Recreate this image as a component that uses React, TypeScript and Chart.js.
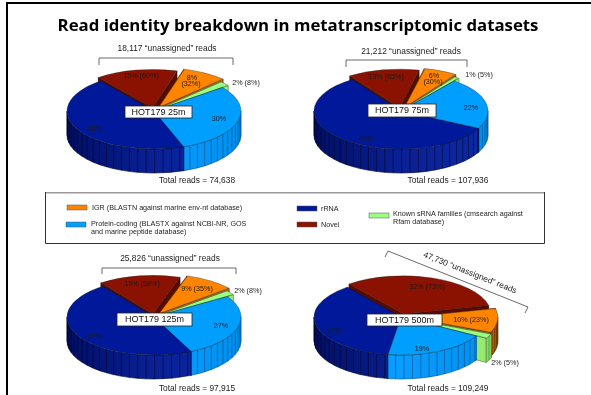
import React, { useEffect, useRef } from "react";
import { Chart, registerables } from "chart.js";

Chart.register(...registerables);

const WIDTH = 591;
const HEIGHT = 395;
const BODY_FONT = '"Liberation Sans", Arial, sans-serif';

// Slice order, clockwise from the rotation angle
const categories = ["rRNA", "Novel", "IGR", "Known sRNA families", "Protein-coding"];
const values25m = [45, 15, 8, 2, 30];
const values75m = [58, 13, 6, 1, 22];
const values125m = [47, 15, 9, 2, 27];
const values500m = [37, 32, 10, 2, 19];

const topColors = ["#00199a", "#8b1200", "#ff8500", "#99ff80", "#009fff"];
const wallShades = [
  ["#000f66", "#0a2096", "#0a2aa6"],
  ["#5a0b00", "#6a0e00", "#6a0e00"],
  ["#cc6a00", "#cc6a00", "#b85e00"],
  ["#96ea72", "#96ea72", "#88d868"],
  ["#0a9cff", "#0a9cff", "#0090ee"],
];
const ribColors = ["#000628", "#2a0500", "#3c2000", "#4f7a3a", "#004f8c"];

const PIE_RX = 87;
const SQUASH = 0.437;
const WALL_DEPTH = 24;
const RIB_STEP = (5.6 * Math.PI) / 180;

type Note = { text: string; x: number; y: number };
type Panel = {
  name: string;
  values: number[];
  cx: number;
  cy: number;
  rotation: number;
  offsets: number[];
  box: [number, number, number, number];
  notes: Note[];
  total: Note;
  unassigned: Note & { angle?: number };
  bracket: [number, number][];
};

const panels: Panel[] = [
  {
    name: "HOT179 25m",
    values: values25m,
    cx: 154,
    cy: 111,
    rotation: 160,
    offsets: [0, 28, 36, 16, 0],
    box: [125, 106, 67, 12],
    notes: [
      { text: "45%", x: 95, y: 129 },
      { text: "15% (60%)", x: 141, y: 76 },
      { text: "8%", x: 192, y: 78 },
      { text: "(32%)", x: 191, y: 84 },
      { text: "2% (8%)", x: 246, y: 83 },
      { text: "30%", x: 219, y: 119 },
    ],
    total: { text: "Total reads = 74,638", x: 197, y: 181 },
    unassigned: { text: "18,117 “unassigned” reads", x: 167, y: 49 },
    bracket: [[99, 65], [99, 58], [233, 58], [233, 65]],
  },
  {
    name: "HOT179 75m",
    values: values75m,
    cx: 401,
    cy: 111,
    rotation: 117,
    offsets: [0, 28, 32, 16, 0],
    box: [368, 104, 68, 13],
    notes: [
      { text: "58%", x: 366, y: 139 },
      { text: "13% (65%)", x: 386, y: 77 },
      { text: "6%", x: 434, y: 76 },
      { text: "(30%)", x: 433, y: 82 },
      { text: "1% (5%)", x: 479, y: 75 },
      { text: "22%", x: 471, y: 108 },
    ],
    total: { text: "Total reads = 107,936", x: 448, y: 181 },
    unassigned: { text: "21,212 “unassigned” reads", x: 411, y: 52 },
    bracket: [[346, 67], [346, 60], [467, 60], [467, 67]],
  },
  {
    name: "HOT179 125m",
    values: values125m,
    cx: 154,
    cy: 317,
    rotation: 154.7,
    offsets: [0, 28, 36, 16, 0],
    box: [117, 313, 75, 13],
    notes: [
      { text: "47%", x: 95, y: 337 },
      { text: "15% (58%)", x: 142, y: 284 },
      { text: "9% (35%)", x: 197, y: 289 },
      { text: "2% (8%)", x: 248, y: 291 },
      { text: "27%", x: 221, y: 326 },
    ],
    total: { text: "Total reads = 97,915", x: 197, y: 389 },
    unassigned: { text: "25,826 “unassigned” reads", x: 170, y: 259 },
    bracket: [[102, 274], [102, 268], [236, 268], [236, 274]],
  },
  {
    name: "HOT179 500m",
    values: values500m,
    cx: 401,
    cy: 317,
    rotation: 188.5,
    offsets: [0, 28, 28, 24, 0],
    box: [367, 314, 75, 12],
    notes: [
      { text: "37%", x: 334, y: 331 },
      { text: "32% (73%)", x: 427, y: 287 },
      { text: "10% (23%)", x: 471, y: 320 },
      { text: "19%", x: 422, y: 349 },
      { text: "2% (5%)", x: 505, y: 363 },
    ],
    total: { text: "Total reads = 109,249", x: 448, y: 389 },
    unassigned: { text: "47,730 “unassigned” reads", x: 470, y: 273, angle: 21.7 },
    bracket: [[385, 257], [388, 251], [528, 307], [525, 313]],
  },
];

const titleText = "Read identity breakdown in metatranscriptomic datasets";

const legendEntries = [
  { index: 2, sw: [67, 205], lines: ["IGR (BLASTN against marine env-nt database)"], tx: 92, ty: 208 },
  { index: 4, sw: [66, 222], lines: ["Protein-coding (BLASTX against NCBI-NR, GOS", "and marine peptide database)"], tx: 91, ty: 224 },
  { index: 0, sw: [297, 206], lines: ["rRNA"], tx: 321, ty: 209 },
  { index: 1, sw: [297, 222], lines: ["Novel"], tx: 321, ty: 225 },
  { index: 3, sw: [369, 213], lines: ["Known sRNA families (cmsearch against", "Rfam database)"], tx: 393, ty: 214 },
];

// Slide frame, heading and the shared key box, painted once behind the first pie.
const pageDecor = {
  id: "pageDecor",
  beforeDraw(chart: any) {
    const ctx: CanvasRenderingContext2D = chart.ctx;
    ctx.save();
    ctx.fillStyle = "#000";
    ctx.fillRect(6, 2, WIDTH, 2);
    ctx.fillRect(6, 2, 2, HEIGHT);

    ctx.textAlign = "center";
    ctx.textBaseline = "middle";
    ctx.font = '700 16.8px "Open Sans", sans-serif';
    ctx.fillText(titleText, 298, 26);

    ctx.fillStyle = "#999";
    ctx.fillRect(45, 192, 500, 1.5);
    ctx.strokeStyle = "#333";
    ctx.lineWidth = 1;
    ctx.beginPath();
    ctx.moveTo(45.5, 192);
    ctx.lineTo(45.5, 243.5);
    ctx.lineTo(544.5, 243.5);
    ctx.lineTo(544.5, 192);
    ctx.stroke();

    ctx.textAlign = "left";
    ctx.font = `7.2px ${BODY_FONT}`;
    for (const entry of legendEntries) {
      ctx.fillStyle = topColors[entry.index];
      ctx.fillRect(entry.sw[0], entry.sw[1], 20, 5);
      ctx.strokeStyle = "#555";
      ctx.lineWidth = 0.5;
      ctx.strokeRect(entry.sw[0], entry.sw[1], 20, 5);
      ctx.fillStyle = "#1c1c1c";
      entry.lines.forEach((line, i) => ctx.fillText(line, entry.tx, entry.ty + i * 8));
    }
    ctx.restore();
  },
};

// Extrudes the slices downward and flattens the library's arcs into an ellipse.
const pie3d = {
  id: "pie3d",
  beforeDatasetsDraw(chart: any) {
    const ctx: CanvasRenderingContext2D = chart.ctx;
    const arcs = chart.getDatasetMeta(0).data;
    const cx = arcs[0].x;
    const cy = arcs[0].y;
    const parts = arcs.map((arc: any, i: number) => {
      const off = (arc.options.offset || 0) / 4;
      const mid = (arc.startAngle + arc.endAngle) / 2;
      const circ = arc.endAngle - arc.startAngle;
      const r = arc.outerRadius + off * (1 - Math.sin(Math.min(Math.PI, circ)));
      return {
        i,
        s: arc.startAngle,
        e: arc.endAngle,
        mid,
        r,
        ox: cx + Math.cos(mid) * off,
        oy: cy + Math.sin(mid) * off * SQUASH,
      };
    });
    parts.sort((a: any, b: any) => Math.sin(a.mid) - Math.sin(b.mid));

    const shade = (i: number) => {
      const g = ctx.createLinearGradient(cx - PIE_RX, 0, cx + PIE_RX, 0);
      g.addColorStop(0, wallShades[i][0]);
      g.addColorStop(0.5, wallShades[i][1]);
      g.addColorStop(1, wallShades[i][2]);
      return g;
    };

    ctx.save();
    ctx.lineWidth = 0.6;
    // Exposed cut faces
    for (const p of parts) {
      ctx.fillStyle = wallShades[p.i][0];
      ctx.strokeStyle = ribColors[p.i];
      for (const ang of [p.s, p.e]) {
        const px = p.ox + Math.cos(ang) * p.r;
        const py = p.oy + Math.sin(ang) * p.r * SQUASH;
        ctx.beginPath();
        ctx.moveTo(p.ox, p.oy);
        ctx.lineTo(px, py);
        ctx.lineTo(px, py + WALL_DEPTH);
        ctx.lineTo(p.ox, p.oy + WALL_DEPTH);
        ctx.closePath();
        ctx.fill();
        ctx.stroke();
      }
    }
    // Ribbed outer walls on the near half of the rim
    for (const p of parts) {
      ctx.strokeStyle = ribColors[p.i];
      for (let m = -1; m <= 2; m++) {
        const a = Math.max(p.s, 2 * Math.PI * m);
        const b = Math.min(p.e, 2 * Math.PI * m + Math.PI);
        if (b <= a) continue;
        ctx.beginPath();
        ctx.ellipse(p.ox, p.oy, p.r, p.r * SQUASH, 0, a, b);
        ctx.ellipse(p.ox, p.oy + WALL_DEPTH, p.r, p.r * SQUASH, 0, b, a, true);
        ctx.closePath();
        ctx.fillStyle = shade(p.i);
        ctx.fill();
        ctx.stroke();
        const first = Math.ceil(a / RIB_STEP) * RIB_STEP;
        for (let t = first; t < b; t += RIB_STEP) {
          const x = p.ox + Math.cos(t) * p.r;
          const y = p.oy + Math.sin(t) * p.r * SQUASH;
          ctx.beginPath();
          ctx.moveTo(x, y);
          ctx.lineTo(x, y + WALL_DEPTH);
          ctx.stroke();
        }
      }
    }
    ctx.restore();

    ctx.save();
    ctx.translate(cx, cy);
    ctx.scale(1, SQUASH);
    ctx.translate(-cx, -cy);
  },
  afterDatasetsDraw(chart: any) {
    chart.ctx.restore();
  },
};

const panelText = {
  id: "panelText",
  afterDraw(chart: any, _args: any, opts: { panel: Panel }) {
    const ctx: CanvasRenderingContext2D = chart.ctx;
    const panel = opts.panel;
    ctx.save();
    ctx.textAlign = "center";
    ctx.textBaseline = "middle";

    ctx.fillStyle = "#1c1c1c";
    ctx.font = `7.2px ${BODY_FONT}`;
    for (const n of panel.notes) ctx.fillText(n.text, n.x, n.y);

    ctx.font = `8.4px ${BODY_FONT}`;
    ctx.fillText(panel.total.text, panel.total.x, panel.total.y);

    const u = panel.unassigned;
    ctx.save();
    ctx.translate(u.x, u.y);
    ctx.rotate(((u.angle || 0) * Math.PI) / 180);
    ctx.fillText(u.text, 0, 0);
    ctx.restore();

    ctx.strokeStyle = "#444";
    ctx.lineWidth = 0.8;
    ctx.beginPath();
    panel.bracket.forEach(([x, y], i) => (i ? ctx.lineTo(x, y) : ctx.moveTo(x, y)));
    ctx.stroke();

    const [bx, by, bw, bh] = panel.box;
    ctx.fillStyle = "#ffffff";
    ctx.fillRect(bx, by, bw, bh);
    ctx.strokeStyle = "#222";
    ctx.lineWidth = 0.8;
    ctx.strokeRect(bx, by, bw, bh);
    ctx.fillStyle = "#111";
    ctx.font = `9px ${BODY_FONT}`;
    ctx.fillText(panel.name, bx + bw / 2, by + bh / 2 + 0.5);
    ctx.restore();
  },
};

function PieCanvas({ panel, withPage }: { panel: Panel; withPage: boolean }) {
  const ref = useRef<HTMLCanvasElement>(null);
  useEffect(() => {
    if (!ref.current) return;
    const canvasH = 600;
    const size = 2 * PIE_RX + Math.max(...panel.offsets) + 0.5;
    const chart = new Chart(ref.current, {
      type: "pie",
      data: {
        labels: categories,
        datasets: [
          {
            data: panel.values,
            backgroundColor: topColors,
            borderColor: "#222",
            borderWidth: 0.5,
            offset: panel.offsets,
          },
        ],
      },
      options: {
        responsive: false,
        animation: false,
        events: [],
        rotation: panel.rotation,
        layout: {
          padding: {
            left: panel.cx - size / 2,
            right: WIDTH - panel.cx - size / 2,
            top: panel.cy - size / 2,
            bottom: canvasH - panel.cy - size / 2,
          },
        },
        plugins: {
          legend: { display: false },
          tooltip: { enabled: false },
          panelText: { panel },
        },
      } as any,
      plugins: withPage ? [pageDecor, pie3d, panelText] : [pie3d, panelText],
    });
    return () => chart.destroy();
  }, [panel, withPage]);
  return (
    <canvas
      ref={ref}
      width={WIDTH}
      height={600}
      style={{ position: "absolute", left: 0, top: 0, width: WIDTH, height: 600 }}
    />
  );
}

export default function App() {
  return (
    <div
      style={{
        position: "fixed",
        left: 0,
        top: 0,
        width: WIDTH,
        height: HEIGHT,
        overflow: "hidden",
        background: "#fff",
      }}
    >
      {panels.map((panel, i) => (
        <PieCanvas key={panel.name} panel={panel} withPage={i === 0} />
      ))}
    </div>
  );
}
